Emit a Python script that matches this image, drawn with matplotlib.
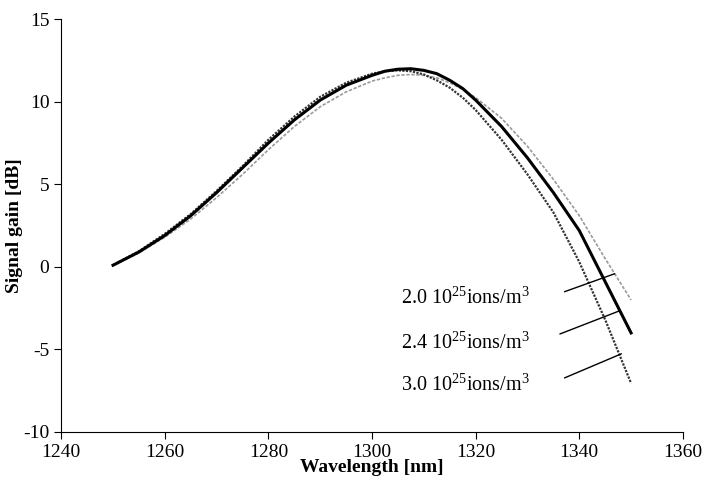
import numpy as np
import matplotlib
matplotlib.use('Agg')
from matplotlib import pyplot as plt

plt.rcParams['font.family'] = ['Liberation Serif', 'DejaVu Serif']
plt.rcParams['mathtext.default'] = 'regular'
plt.rcParams['axes.unicode_minus'] = False

# wavelength grid [nm] and signal gain [dB]
wl = [1250, 1255, 1260, 1265, 1270, 1275, 1280, 1285, 1290, 1295, 1300,
      1302.5, 1305, 1307.5, 1310, 1312.5, 1315, 1317.5, 1320, 1325, 1330,
      1335, 1340, 1345, 1350]

gain_20 = [0.1, 0.85, 1.8, 2.9, 4.2, 5.6, 7.1, 8.5, 9.7, 10.6, 11.25,
           11.45, 11.6, 11.65, 11.6, 11.45, 11.15, 10.75, 10.25, 9.0, 7.3,
           5.3, 3.1, 0.5, -2.0]
gain_24 = [0.1, 0.9, 1.9, 3.1, 4.5, 6.0, 7.5, 8.9, 10.1, 11.0, 11.6,
           11.85, 11.97, 12.0, 11.9, 11.7, 11.3, 10.8, 10.1, 8.5, 6.6,
           4.5, 2.2, -0.9, -4.0]
gain_30 = [0.1, 0.95, 2.0, 3.2, 4.6, 6.1, 7.7, 9.1, 10.3, 11.15, 11.7,
           11.85, 11.9, 11.85, 11.65, 11.3, 10.85, 10.25, 9.5, 7.7, 5.6,
           3.3, 0.3, -3.2, -7.05]

labels = ['2.0 10$^{25}$ions/m$^{3}$',
          '2.4 10$^{25}$ions/m$^{3}$',
          '3.0 10$^{25}$ions/m$^{3}$']
label_y = [-1.9, -4.6, -7.15]
# leader lines: (x0, y0, x1, y1)
leaders = [(1337.2, -1.5, 1346.8, -0.42),
           (1336.3, -4.06, 1347.8, -2.66),
           (1337.2, -6.72, 1348.1, -5.27)]

fig = plt.figure(figsize=(7.04, 4.92), dpi=100)
ax = fig.add_axes([0.087, 0.122, 0.883, 0.839])

ax.plot(wl, gain_20, color='#9a9a9a', lw=1.2, linestyle=(0, (2, 1)))
ax.plot(wl, gain_30, color='#333333', lw=1.6, linestyle=(0, (1, 0.6)))
ax.plot(wl, gain_24, color='black', lw=2.2)

for (x0, y0, x1, y1) in leaders:
    ax.plot([x0, x1], [y0, y1], color='black', lw=1.0)
for txt, ty in zip(labels, label_y):
    ax.text(1305.5, ty, txt, fontsize=14.5, va='center', ha='left')

ax.set_xlim(1240, 1360)
ax.set_ylim(-10, 15)
ax.set_xticks(np.arange(1240, 1361, 20))
ax.set_yticks(np.arange(-10, 16, 5))
ax.spines['top'].set_visible(False)
ax.spines['right'].set_visible(False)
ax.spines['left'].set_linewidth(0.8)
ax.spines['bottom'].set_linewidth(0.8)
ax.tick_params(direction='out', length=5, width=0.8, labelsize=14)
ax.set_xlabel('Wavelength [nm]', fontsize=14, fontweight='bold', labelpad=-1)
ax.set_ylabel('Signal gain [dB]', fontsize=14, fontweight='bold', labelpad=0)

plt.savefig('out.png', dpi=100)
